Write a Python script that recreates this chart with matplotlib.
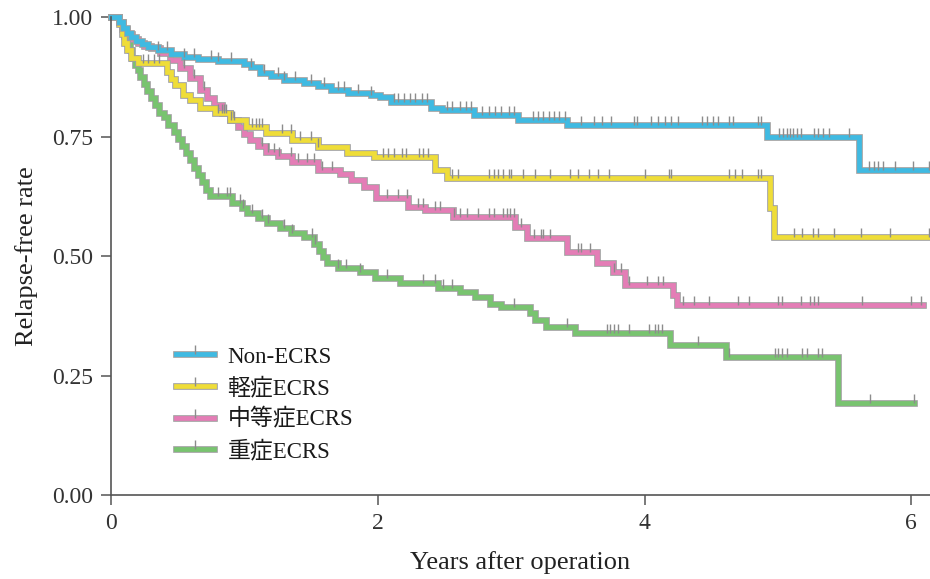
import matplotlib
matplotlib.use("Agg")
import matplotlib.pyplot as plt
import matplotlib.patheffects as pe
from matplotlib.lines import Line2D
import numpy as np

plt.rcParams["font.family"] = ["Liberation Serif", "Noto Sans CJK JP"]

GROUPS = ["Non-ECRS", "軽症ECRS", "中等症ECRS", "重症ECRS"]
COLORS = ["#3fbae2", "#efdd38", "#e47db6", "#78c46f"]

# step times (years) and survival after each step
non_t = [0.0, 0.06, 0.09, 0.12, 0.15, 0.19, 0.23, 0.28, 0.35, 0.45, 0.55, 0.65, 0.80, 1.00,
         1.05, 1.12, 1.20, 1.30, 1.45, 1.55, 1.65, 1.78, 1.95, 2.02, 2.10, 2.40, 2.48, 2.72,
         3.05, 3.42, 4.92, 5.61]
non_s = [1.000, 0.990, 0.978, 0.967, 0.958, 0.950, 0.943, 0.937, 0.930, 0.922, 0.917, 0.912,
         0.908, 0.902, 0.895, 0.883, 0.876, 0.868, 0.862, 0.856, 0.847, 0.841, 0.837, 0.833,
         0.822, 0.810, 0.805, 0.795, 0.785, 0.775, 0.749, 0.680]
non_end = 6.13
non_cens = [0.35, 0.42, 0.55, 0.62, 0.75, 0.80, 0.90, 1.05, 1.15, 1.25, 1.30, 1.38, 1.50, 1.60,
            1.70, 1.75, 1.85, 1.95, 2.12, 2.15, 2.20, 2.24, 2.28, 2.33, 2.37, 2.52, 2.56, 2.62,
            2.66, 2.70, 2.78, 2.83, 2.88, 2.92, 2.98, 3.02, 3.16, 3.20, 3.24, 3.28, 3.32, 3.36,
            3.40, 3.52, 3.62, 3.68, 3.75, 3.92, 3.94, 4.05, 4.10, 4.15, 4.20, 4.25, 4.43, 4.47,
            4.51, 4.55, 4.63, 4.66, 4.85, 4.87, 5.01, 5.04, 5.07, 5.09, 5.11, 5.14, 5.17, 5.27,
            5.30, 5.34, 5.38, 5.53, 5.68, 5.72, 5.75, 5.79, 5.88, 6.01, 6.13]

mild_t = [0.0, 0.06, 0.08, 0.10, 0.12, 0.15, 0.20, 0.42, 0.45, 0.48, 0.54, 0.59, 0.67, 0.78,
          0.89, 1.01, 1.16, 1.36, 1.55, 1.77, 1.97, 2.43, 2.52, 4.94, 4.97]
mild_s = [1.000, 0.985, 0.965, 0.945, 0.930, 0.915, 0.904, 0.885, 0.870, 0.858, 0.837, 0.826,
          0.810, 0.800, 0.785, 0.770, 0.757, 0.743, 0.728, 0.715, 0.707, 0.680, 0.663, 0.600,
          0.540]
mild_end = 6.13
mild_cens = [0.24, 0.28, 0.32, 0.36, 0.80, 0.83, 0.86, 0.90, 1.06, 1.09, 1.11, 1.13, 1.28, 1.35,
             1.42, 1.50, 1.55, 2.04, 2.08, 2.12, 2.18, 2.21, 2.31, 2.34, 2.38, 2.56, 2.60, 2.83,
             2.87, 2.90, 2.94, 2.98, 3.00, 3.09, 3.18, 3.29, 3.44, 3.50, 3.58, 3.65, 3.73, 4.00,
             4.18, 4.20, 4.63, 4.68, 4.73, 4.85, 4.87, 5.12, 5.18, 5.26, 5.30, 5.42, 5.62, 5.84,
             6.13]

mod_t = [0.0, 0.06, 0.09, 0.12, 0.16, 0.20, 0.25, 0.30, 0.37, 0.44, 0.52, 0.59, 0.67, 0.72,
         0.77, 0.83, 0.89, 0.95, 1.00, 1.04, 1.10, 1.16, 1.25, 1.36, 1.55, 1.72, 1.80, 1.90,
         1.99, 2.23, 2.355, 2.565, 3.03, 3.12, 3.42, 3.645, 3.76, 3.855, 4.215, 4.245]
mod_s = [1.000, 0.990, 0.975, 0.965, 0.955, 0.945, 0.940, 0.935, 0.925, 0.910, 0.893, 0.872,
         0.847, 0.830, 0.816, 0.800, 0.785, 0.770, 0.755, 0.743, 0.730, 0.718, 0.710, 0.697,
         0.680, 0.672, 0.660, 0.645, 0.621, 0.603, 0.596, 0.582, 0.561, 0.538, 0.508, 0.485,
         0.467, 0.440, 0.418, 0.397]
mod_end = 6.09
mod_cens = [0.55, 0.62, 0.70, 0.85, 0.92, 1.13, 1.18, 1.22, 1.26, 1.35, 1.40, 1.47, 1.52, 1.58,
            1.66, 2.07, 2.15, 2.22, 2.30, 2.34, 2.43, 2.47, 2.57, 2.62, 2.67, 2.75, 2.83, 2.87,
            2.94, 2.97, 2.99, 3.02, 3.07, 3.17, 3.22, 3.24, 3.29, 3.50, 3.52, 3.59, 3.77, 3.82,
            3.88, 4.02, 4.10, 4.14, 4.29, 4.37, 4.48, 4.70, 4.78, 5.00, 5.03, 5.17, 5.24, 5.27,
            5.30, 5.63, 6.00, 6.07]

sev_t = [0.0, 0.06, 0.08, 0.10, 0.12, 0.14, 0.16, 0.18, 0.20, 0.22, 0.25, 0.27, 0.30, 0.33,
         0.36, 0.40, 0.43, 0.47, 0.50, 0.53, 0.56, 0.59, 0.62, 0.65, 0.68, 0.71, 0.74, 0.91,
         0.98, 1.02, 1.10, 1.17, 1.27, 1.35, 1.45, 1.52, 1.56, 1.59, 1.62, 1.70, 1.87, 1.98,
         2.17, 2.45, 2.62, 2.73, 2.84, 2.92, 3.14, 3.18, 3.26, 3.48, 4.19, 4.61, 5.45]
sev_s = [1.000, 0.990, 0.975, 0.960, 0.945, 0.930, 0.915, 0.900, 0.890, 0.875, 0.860, 0.845,
         0.830, 0.815, 0.800, 0.790, 0.775, 0.760, 0.745, 0.730, 0.715, 0.700, 0.685, 0.670,
         0.655, 0.638, 0.625, 0.611, 0.600, 0.590, 0.580, 0.569, 0.558, 0.548, 0.540, 0.525,
         0.510, 0.498, 0.485, 0.475, 0.467, 0.454, 0.443, 0.433, 0.425, 0.414, 0.400, 0.393,
         0.380, 0.366, 0.351, 0.339, 0.314, 0.289, 0.192]
sev_end = 6.02
sev_cens = [0.80, 0.87, 0.89, 0.97, 0.99, 1.06, 1.13, 1.18, 1.30, 1.36, 1.51, 1.53, 1.70, 1.76,
            1.87, 2.07, 2.34, 2.43, 2.49, 2.56, 3.02, 3.42, 3.72, 3.74, 3.77, 3.80, 3.88, 4.03,
            4.08, 4.10, 4.13, 4.40, 4.63, 4.98, 5.00, 5.03, 5.07, 5.18, 5.22, 5.30, 5.33, 5.69,
            6.02]

curves = [
    (non_t, non_s, non_end, non_cens),
    (mild_t, mild_s, mild_end, mild_cens),
    (mod_t, mod_s, mod_end, mod_cens),
    (sev_t, sev_s, sev_end, sev_cens),
]

EDGE = "#a0a0a0"
LW = 3.4
outline = [pe.Stroke(linewidth=LW + 1.4, foreground=EDGE), pe.Normal()]

fig = plt.figure(figsize=(9.3, 5.79), dpi=100)
ax = fig.add_axes([0.1194, 0.145, 0.8806, 0.8256])

for (t, s, t_end, cens), color in reversed(list(zip(curves, COLORS))):
    tt = np.append(t, t_end)
    ss = np.append(s, s[-1])
    ax.step(tt, ss, where="post", color=color, lw=LW, path_effects=outline,
            solid_joinstyle="miter", clip_on=False, zorder=2)
    # censoring marks sit on the step function value at each time
    idx = np.searchsorted(t, cens, side="right") - 1
    cy = np.asarray(s)[idx]
    ax.plot(cens, cy, ls="none", marker=2, ms=6.5, mew=1.0, color="#8c8c8c",
            clip_on=False, zorder=3)

handles = []
for color in COLORS:
    ln = Line2D([], [], color=color, lw=LW, path_effects=outline)
    tk = Line2D([], [], ls="none", marker=2, ms=6.5, mew=1.0, color="#8c8c8c")
    handles.append((ln, tk))

leg = ax.legend(handles, GROUPS, loc="upper left", bbox_to_anchor=(0.068, 0.33),
                frameon=False, fontsize=16.5, handlelength=1.65, handletextpad=0.6,
                labelspacing=0.42, borderaxespad=0)
for txt in leg.get_texts():
    txt.set_color("#1a1a1a")

ax.set_xlim(0, 6.14)
ax.set_ylim(0, 1.0)
ax.set_xticks([0, 2, 4, 6])
ax.set_yticks([0, 0.25, 0.5, 0.75, 1.0])
ax.set_yticklabels(["0.00", "0.25", "0.50", "0.75", "1.00"])
for side in ("top", "right"):
    ax.spines[side].set_visible(False)
for side in ("left", "bottom"):
    ax.spines[side].set_color("#555555")
    ax.spines[side].set_linewidth(1.2)
ax.tick_params(length=7, width=1.1, color="#555555", labelsize=17, labelcolor="#333333",
               pad=6)
ax.set_xlabel("Years after operation", fontsize=19, color="#222222", labelpad=12)
ax.set_ylabel("Relapse-free rate", fontsize=19, color="#222222", labelpad=10)

fig.savefig("out.png", dpi=100)
